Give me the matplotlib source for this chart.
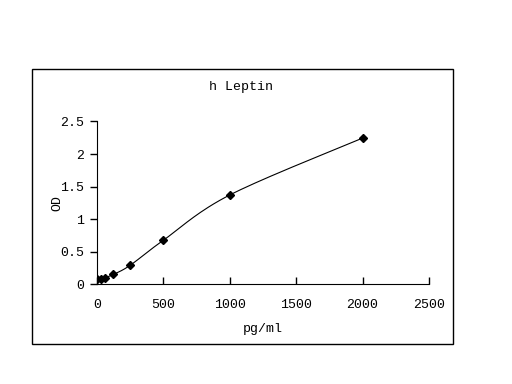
import numpy as np
import matplotlib
matplotlib.use("Agg")
import matplotlib.pyplot as plt
from matplotlib.patches import Rectangle

# standard curve data
conc = [0, 31.25, 62.5, 125, 250, 500, 1000, 2000]
od = [0.072, 0.077, 0.10, 0.15, 0.288, 0.673, 1.37, 2.245]
x_ticks = [0, 500, 1000, 1500, 2000, 2500]
y_ticks = [0, 0.5, 1, 1.5, 2, 2.5]
y_labels = ["0", "0.5", "1", "1.5", "2", "2.5"]


def suavizar(xs, ys, n=30):
    # bezier smoothing like spreadsheet "smoothed line"
    xs = np.asarray(xs, float)
    ys = np.asarray(ys, float)
    px, py = [], []
    for i in range(len(xs) - 1):
        x0, y0 = (xs[i - 1], ys[i - 1]) if i > 0 else (xs[i], ys[i])
        x1, y1 = xs[i], ys[i]
        x2, y2 = xs[i + 1], ys[i + 1]
        x3, y3 = (xs[i + 2], ys[i + 2]) if i + 2 < len(xs) else (x2, y2)
        c1x, c1y = x1 + (x2 - x0) / 6, y1 + (y2 - y0) / 6
        c2x, c2y = x2 - (x3 - x1) / 6, y2 - (y3 - y1) / 6
        t = np.linspace(0, 1, n)
        px.extend((1 - t) ** 3 * x1 + 3 * (1 - t) ** 2 * t * c1x + 3 * (1 - t) * t ** 2 * c2x + t ** 3 * x2)
        py.extend((1 - t) ** 3 * y1 + 3 * (1 - t) ** 2 * t * c1y + 3 * (1 - t) * t ** 2 * c2y + t ** 3 * y2)
    return px, py


plt.rcParams["font.family"] = ["Liberation Mono", "DejaVu Sans Mono"]
plt.rcParams["font.size"] = 9.5

fig = plt.figure(figsize=(5.12, 3.84), dpi=100)
fig.patches.append(Rectangle((0.0625, 0.104), 0.8225, 0.716, transform=fig.transFigure,
                             fill=False, edgecolor="black", linewidth=1))

ax = fig.add_axes([0.189, 0.260, 0.649, 0.4236])
sx, sy = suavizar(conc, od)
ax.plot(sx, sy, color="black", linewidth=0.8)
ax.plot(conc, od, linestyle="none", marker="D", markersize=4.5, color="black")

ax.set_xlim(0, 2500)
ax.set_ylim(0, 2.5)
ax.set_xticks(x_ticks)
ax.set_yticks(y_ticks)
ax.set_yticklabels(y_labels)
ax.spines["top"].set_visible(False)
ax.spines["right"].set_visible(False)
ax.tick_params(axis="x", direction="in", length=5, pad=11, width=1)
ax.tick_params(axis="y", direction="out", length=5, pad=4, width=1)
ax.set_xlabel("pg/ml", labelpad=8)
ax.set_ylabel("OD")
ax.yaxis.set_label_coords(-0.10, 0.5)

fig.text(0.47, 0.774, "h Leptin", ha="center", va="center")

fig.savefig("out.png", dpi=100)
